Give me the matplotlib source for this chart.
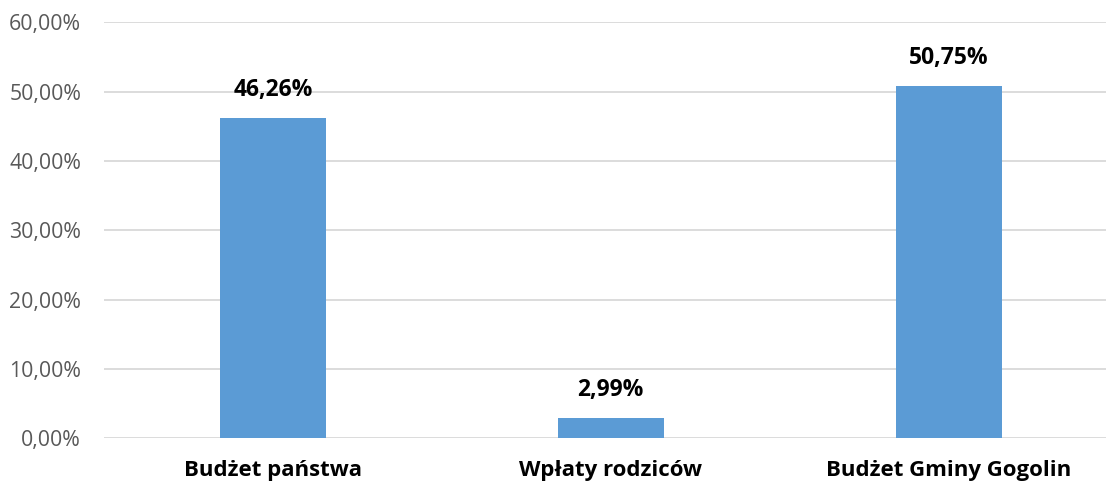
import matplotlib
matplotlib.use("Agg")
import matplotlib.pyplot as plt
from matplotlib.ticker import FuncFormatter

categories = ["Budżet państwa", "Wpłaty rodziców", "Budżet Gminy Gogolin"]
values = [46.26, 2.99, 50.75]
yticks = [0, 10, 20, 30, 40, 50, 60]

plt.rcParams['font.family'] = ['Open Sans', 'DejaVu Sans']

W, H = 1106, 483
fig = plt.figure(figsize=(W / 100, H / 100), dpi=100)
left, right = 104, 1117.7
bottom, top = 438.3, 22.3
ax = fig.add_axes([left / W, (H - bottom) / H, (right - left) / W, (bottom - top) / H])

x = list(range(len(categories)))
bars = ax.bar(x, values, width=0.314, color="#5b9bd5", zorder=3)
ax.set_xlim(-0.5, len(categories) - 0.5)
ax.set_ylim(0, 60)
ax.set_yticks(yticks)
ax.yaxis.set_major_formatter(FuncFormatter(lambda v, p: f"{v:.2f}".replace(".", ",") + "%"))
ax.grid(axis="y", color="#d9d9d9", linewidth=1.3, zorder=0)
ax.set_axisbelow(True)
for s in ax.spines.values():
    s.set_visible(False)
ax.tick_params(axis="y", length=0, pad=16.5, labelsize=15.3, labelcolor="#595959")
ax.tick_params(axis="x", length=0, pad=15.5)
ax.set_xticks(x)
ax.set_xticklabels(categories, fontsize=16, fontweight="bold", color="black")

for xi, v in zip(x, values):
    ax.annotate(f"{v:.2f}".replace(".", ",") + "%", (xi, v), xytext=(0, 11.5),
                textcoords="offset points", ha="center", va="bottom",
                fontsize=16.5, fontweight="bold", color="black")

fig.savefig("out.png", dpi=100)
